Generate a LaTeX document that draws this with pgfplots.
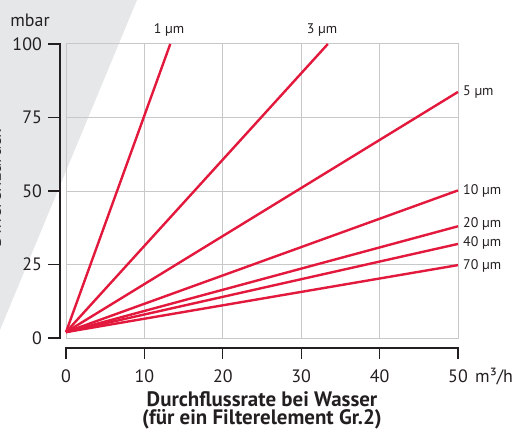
\documentclass[border=0pt]{standalone}
\usepackage{pgfplots}
\pgfplotsset{compat=1.18}
\usepackage{fontspec}
\setmainfont{PT Sans}
\definecolor{lred}{RGB}{226,24,60}
\definecolor{bggrey}{RGB}{230,231,232}
\definecolor{gridgrey}{RGB}{200,200,200}
\definecolor{ink}{RGB}{35,31,32}
\begin{document}
\begin{tikzpicture}[x=1bp,y=1bp]
\useasboundingbox (0,0) rectangle (515,432);
\fill[bggrey] (0,432) -- (137,432) -- (0,102) -- cycle;
\begin{axis}[
  at={(66bp,94bp)}, anchor=south west,
  scale only axis, width=392bp, height=294bp,
  xmin=0, xmax=50, ymin=0, ymax=100,
  xtick={0,10,20,30,40,50}, ytick={0,25,50,75,100},
  grid=major, grid style={gridgrey, line width=1bp},
  axis line style={gridgrey, line width=1bp},
  major tick length=0pt,
  /pgf/number format/assume math mode=true,
  tick label style={font=\fontsize{18}{20}\selectfont, text=ink},
  yticklabel style={anchor=east, inner sep=0pt, xshift=-24bp},
  xticklabel style={anchor=north, inner sep=0pt, yshift=-32bp},
  xlabel={Durchflussrate bei Wasser\\(für ein Filterelement Gr.2)},
  xlabel style={at={(axis description cs:0.5,0)}, anchor=north, yshift=-53bp, inner sep=0pt, align=center, font=\fontsize{21}{18.5}\selectfont\bfseries, text=ink},
  ylabel={Differenzdruck},
  ylabel style={at={(axis description cs:-0.166,0.51)}, anchor=base, inner sep=0pt, font=\fontsize{19}{20}\selectfont, text=ink},
  clip=false,
]
\addplot[lred, line width=2.4bp] coordinates {(0,2) (13.3,100)};
\addplot[lred, line width=2.4bp] coordinates {(0,2) (33.4,100)};
\addplot[lred, line width=2.4bp] coordinates {(0,2) (50,83.7)};
\addplot[lred, line width=2.4bp] coordinates {(0,2) (50,50.2)};
\addplot[lred, line width=2.4bp] coordinates {(0,2) (50,38)};
\addplot[lred, line width=2.4bp] coordinates {(0,2) (50,32)};
\addplot[lred, line width=2.4bp] coordinates {(0,2) (50,24.8)};
\end{axis}
% offset axis lines
\draw[ink, line width=1.3bp] (66,84) -- (458,84);
\foreach \x in {66,144.4,222.8,301.2,379.6,458} \draw[ink, line width=1.3bp] (\x,84.65) -- (\x,73);
\draw[ink, line width=1.3bp] (60,388) -- (60,94);
\foreach \y in {94,167.5,241,314.5,388} \draw[ink, line width=1.3bp] (60.65,\y) -- (48,\y);
% texts
\node[text=ink, font=\fontsize{18}{20}\selectfont] at (30,412) {mbar};
\node[text=ink, font=\fontsize{18}{20}\selectfont, anchor=west, inner sep=0pt] at (475,55) {m³/h};
\begin{scope}[every node/.style={text=ink, font=\fontsize{14}{16}\selectfont, inner sep=0pt}]
\node at (169,402) {1 µm};
\node at (322,402) {3 µm};
\node[anchor=west] at (463,340) {5 µm};
\node[anchor=west] at (463,241) {10 µm};
\node[anchor=west] at (463,208) {20 µm};
\node[anchor=west] at (463,189) {40 µm};
\node[anchor=west] at (463,166) {70 µm};
\end{scope}
\end{tikzpicture}
\end{document}
